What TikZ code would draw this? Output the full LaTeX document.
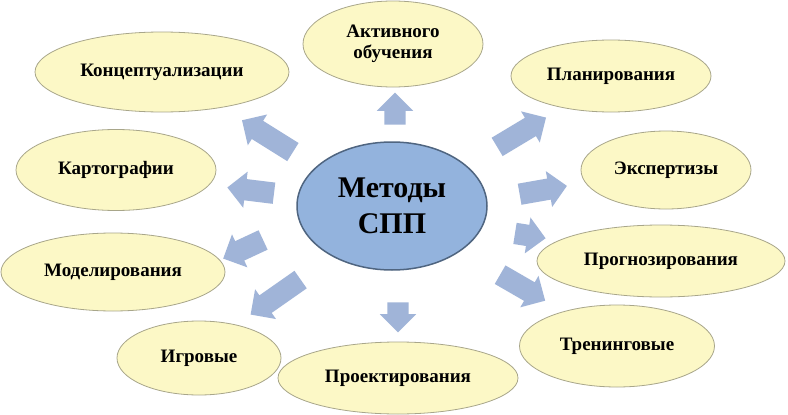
\documentclass[tikz,border=0pt]{standalone}
\usepackage{fontspec}
\setmainfont{Liberation Serif}
\usetikzlibrary{shapes.geometric,shapes.arrows}
\definecolor{outerfill}{HTML}{FCF8C6}
\definecolor{outerline}{HTML}{A8A68A}
\definecolor{centerfill}{HTML}{93B3DD}
\definecolor{centerline}{HTML}{4F6580}
\definecolor{arrowfill}{HTML}{A0B4D8}
\tikzset{
  outer/.style={ellipse, draw=outerline, line width=0.8pt, fill=outerfill, inner sep=0pt,
    font=\fontsize{19}{21}\selectfont\bfseries, align=center, text=black},
  centre/.style={ellipse, draw=centerline, line width=1.5pt, fill=centerfill, inner sep=0pt,
    font=\fontsize{30}{36}\selectfont\bfseries, align=center, text=black},
  blockarrow/.style={single arrow, fill=arrowfill, draw=none, inner xsep=0pt, inner ysep=10.5pt,
    minimum width=0pt, single arrow head extend=7.5pt}
}
\begin{document}
\begin{tikzpicture}[x=1pt,y=-1pt]
\useasboundingbox (0,0) rectangle (788,415);
\fill[white] (0,0) rectangle (788,415);
% outer ellipses
\node[outer, minimum width=180pt, minimum height=86pt] (akt) at (393,44) {Активного\\обучения};
\node[outer, minimum width=254pt, minimum height=80pt] (konc) at (162,72) {Концептуализации};
\node[outer, minimum width=200pt, minimum height=72pt] (plan) at (611,76) {Планирования};
\node[outer, minimum width=200pt, minimum height=81pt] (kart) at (116,170) {Картографии};
\node[outer, minimum width=170pt, minimum height=78pt] (eksp) at (666,170) {Экспертизы};
\node[outer, minimum width=224pt, minimum height=78pt] (mod) at (113,272) {Моделирования};
\node[outer, minimum width=248pt, minimum height=72pt] (prog) at (661,261) {Прогнозирования};
\node[outer, minimum width=164pt, minimum height=74pt] (igr) at (199,358) {Игровые};
\node[outer, minimum width=240pt, minimum height=72pt] (proe) at (398,378) {Проектирования};
\node[outer, minimum width=195pt, minimum height=82pt] (tren) at (617,346) {Тренинговые};
% centre
\node[centre, minimum width=190pt, minimum height=128pt] (c) at (392,206) {Методы\\СПП};
% block arrows
\node[blockarrow, minimum height=32pt, rotate=90] (a1) at (395,114) {};
\node[blockarrow, minimum height=30pt, rotate=-90] (a2) at (398,312) {};
\node[blockarrow, minimum height=60pt, rotate=148] (a3) at (272,139) {};
\node[blockarrow, minimum height=47pt, rotate=173] (a4) at (256,191) {};
\node[blockarrow, minimum height=44pt, rotate=205] (a5) at (248,247) {};
\node[blockarrow, minimum height=61pt, rotate=215] (a6) at (280,294) {};
\node[blockarrow, minimum height=57pt, rotate=31] (a7) at (517,135) {};
\node[blockarrow, minimum height=48pt, rotate=10] (a8) at (538,191) {};
\node[blockarrow, minimum height=31pt, rotate=-9] (a9) at (525,235) {};
\node[blockarrow, minimum height=52pt, rotate=-30] (a10) at (518,285) {};
\end{tikzpicture}
\end{document}
